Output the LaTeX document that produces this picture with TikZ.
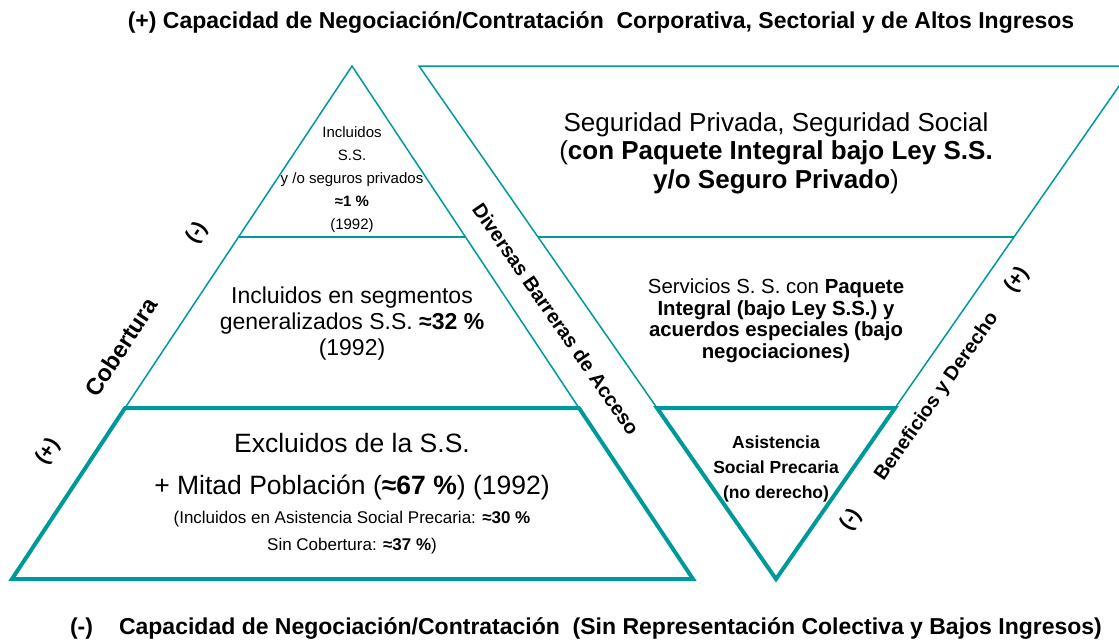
\documentclass[tikz,border=0pt]{standalone}
\usepackage{fontspec}
\setmainfont{Liberation Sans}
\definecolor{pyramid}{RGB}{0,153,153}
\tikzstyle{thinline}=[draw=pyramid,line width=1.5pt]
\tikzstyle{thickline}=[draw=pyramid,line width=4pt,line join=miter]
\tikzstyle{txt}=[align=center,inner sep=0pt]
\tikzstyle{sidetxt}=[inner sep=0pt,font=\bfseries\fontsize{21}{24}\selectfont]
\tikzstyle{headtxt}=[inner sep=0pt,font=\bfseries\fontsize{23}{26}\selectfont]

\begin{document}
\begin{tikzpicture}[x=1pt,y=-1pt]
    \clip (0,0) rectangle (1119,641);
    % First we place the corners of both triangles
    \foreach \px/\py/\name in {352/66/pa, 12/579/pbl, 693/579/pbr, 238.6/237/pml, 465.4/237/pmr, 125/408/pkl, 579/408/pkr,
        776/579/ia, 419/66/itl, 1133/66/itr, 538/237/iml, 1014/237/imr, 657/408/ikl, 895/408/ikr}
        \coordinate (\name) at (\px,\py);
    % Pyramid of coverage
    \draw[thinline] (pa) -- (pkl) -- (pkr) -- cycle;
    \draw[thinline] (pml) -- (pmr);
    \draw[thickline] (pkl) -- (pbl) -- (pbr) -- (pkr) -- cycle;
    % Inverted pyramid of benefits
    \draw[thinline] (itl) -- (itr) -- (ikr) -- (ikl) -- cycle;
    \draw[thinline] (iml) -- (imr);
    \draw[thickline] (ikl) -- (ikr) -- (ia) -- cycle;

    % Texts inside the pyramid
    \node[txt,font=\fontsize{15}{23}\selectfont] (ptop) at (352,180) {Incluidos\\S.S.\\y /o seguros privados\\\textbf{≈1 \%}\\(1992)};
    \node[txt,font=\fontsize{23}{26}\selectfont] (pmid) at (352,324) {Incluidos en segmentos\\generalizados S.S. \textbf{≈32 \%}\\(1992)};
    \node[txt,font=\fontsize{26.5}{42}\selectfont] (pexc) at (352,467) {Excluidos de la S.S.\\+ Mitad Población (\textbf{≈67 \%}) (1992)};
    \node[txt,font=\fontsize{17}{27}\selectfont] (psub) at (352,533) {(Incluidos en Asistencia Social Precaria: \textbf{≈30 \%}\\Sin Cobertura: \textbf{≈37 \%})};

    % Texts inside the inverted pyramid
    \node[txt,font=\fontsize{26}{28.5}\selectfont] (itop) at (776,153) {Seguridad Privada, Seguridad Social\\(\textbf{con Paquete Integral bajo Ley S.S.}\\\textbf{y/o Seguro Privado})};
    \node[txt,font=\fontsize{20.4}{21.5}\selectfont] (imid) at (776,321) {Servicios S. S. con \textbf{Paquete}\\\textbf{Integral (bajo Ley S.S.) y}\\\textbf{acuerdos especiales (bajo}\\\textbf{negociaciones)}};
    \node[txt,font=\bfseries\fontsize{17.5}{25}\selectfont] (ibot) at (776,469) {Asistencia\\Social Precaria\\(no derecho)};

    % Side labels
    \node[sidetxt,rotate=-55.3,font=\bfseries\fontsize{20}{22}\selectfont] (barrier) at (556,319) {Diversas Barreras de Acceso};
    \node[sidetxt,rotate=56.5,font=\bfseries\fontsize{23.5}{26}\selectfont] (cover) at (121,347) {Cobertura};
    \node[sidetxt,rotate=56.5] (covmin) at (197,233) {(-)};
    \node[sidetxt,rotate=56.5] (covplus) at (48,452) {(+)};
    \node[sidetxt,rotate=55,font=\bfseries\fontsize{19.7}{22}\selectfont] (benef) at (937,397) {Beneficios y Derecho};
    \node[sidetxt,rotate=55] (benplus) at (1017,280) {(+)};
    \node[sidetxt,rotate=55] (benmin) at (851,520) {(-)};

    % Headings
    \node[headtxt] (headtop) at (601,22) {(+) Capacidad de Negociación/Contratación\ \ Corporativa, Sectorial y de Altos Ingresos};
    \node[headtxt] (headbot) at (586,628) {(-)\hspace{26pt}Capacidad de Negociación/Contratación\ \ (Sin Representación Colectiva y Bajos Ingresos)};
\end{tikzpicture}
\end{document}
